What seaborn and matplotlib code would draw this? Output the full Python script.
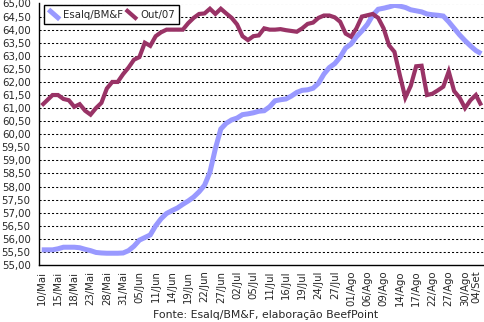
import numpy as np
import pandas as pd
import matplotlib
matplotlib.use("Agg")
import matplotlib.pyplot as plt
import seaborn as sns
from matplotlib.legend_handler import HandlerLine2D
from matplotlib.lines import Line2D

# Trading days (BM&F calendar: Corpus Christi and 9 de Julho closed)
holidays = ["2007-06-07", "2007-07-09"]
dates = pd.bdate_range("2007-05-10", "2007-09-04", freq="C", holidays=holidays)
month_pt = {5: "Mai", 6: "Jun", 7: "Jul", 8: "Ago", 9: "Set"}
date_labels = [f"{d.day:02d}/{month_pt[d.month]}" for d in dates]

series_names = ["Esalq/BM&F", "Out/07"]

esalq = [
    55.58, 55.58, 55.58, 55.62, 55.68, 55.68, 55.68, 55.66, 55.60, 55.55,
    55.48, 55.46, 55.45, 55.45, 55.45, 55.46, 55.55, 55.72, 55.95, 56.05,
    56.15, 56.50, 56.77, 56.97, 57.08, 57.18, 57.32, 57.45, 57.60, 57.80,
    58.05, 58.55, 59.45, 60.20, 60.42, 60.55, 60.62, 60.75, 60.78, 60.82,
    60.88, 60.90, 61.05, 61.28, 61.32, 61.35, 61.46, 61.60, 61.68, 61.70,
    61.76, 61.95, 62.30, 62.55, 62.70, 62.95, 63.30, 63.45, 63.73, 63.95,
    64.20, 64.55, 64.78, 64.82, 64.87, 64.93, 64.90, 64.85, 64.76, 64.72,
    64.68, 64.60, 64.57, 64.55, 64.52, 64.30, 64.05, 63.80, 63.58, 63.38,
    63.20, 63.08,
]

out07 = [
    61.10, 61.30, 61.50, 61.50, 61.35, 61.30, 61.05, 61.15, 60.90, 60.75,
    61.00, 61.20, 61.75, 62.00, 62.00, 62.30, 62.55, 62.85, 62.95, 63.50,
    63.38, 63.75, 63.90, 64.00, 64.00, 64.00, 64.00, 64.25, 64.45, 64.60,
    64.62, 64.80, 64.60, 64.80, 64.62, 64.45, 64.20, 63.75, 63.60, 63.75,
    63.78, 64.05, 64.00, 64.00, 64.02, 63.98, 63.95, 63.92, 64.05, 64.22,
    64.27, 64.45, 64.54, 64.54, 64.47, 64.30, 63.85, 63.73, 64.05, 64.50,
    64.55, 64.60, 64.45, 64.05, 63.40, 63.15, 62.25, 61.40, 61.85, 62.60,
    62.62, 61.50, 61.55, 61.68, 61.82, 62.40, 61.65, 61.40, 61.00, 61.30,
    61.50, 61.10,
]

y_ticks = np.arange(55.0, 65.01, 0.5)

n = len(dates)
df = pd.DataFrame({
    "pos": list(range(n)) * 2,
    "valor": esalq + out07,
    "serie": [series_names[0]] * n + [series_names[1]] * n,
})

sns.set_style("white")
plt.rcParams["font.family"] = ["DejaVu Sans"]
FS = 7.3

W, H = 484, 322
fig = plt.figure(figsize=(W / 100, H / 100), dpi=100)
ax = fig.add_axes([39 / W, 1 - 265 / H, (W - 39) / W, (265 - 3.5) / H])

palette = {"Esalq/BM&F": "#9999FF", "Out/07": "#993366"}
sns.lineplot(data=df, x="pos", y="valor", hue="serie", hue_order=series_names,
             palette=palette, ax=ax, legend=False, estimator=None)
ax.lines[0].set_linewidth(3.6)
ax.lines[1].set_linewidth(3.0)
for ln in ax.lines:
    ln.set_solid_joinstyle("miter")
    ln.set_solid_capstyle("butt")

ax.set_xlim(-0.5, n - 0.5)
ax.set_ylim(55.0, 65.0)

# horizontal dotted grid
ax.set_yticks(y_ticks)
ax.set_yticklabels([f"{v:.2f}".replace(".", ",") for v in y_ticks], fontsize=FS)
for v in y_ticks[1:]:
    ax.axhline(v, color="black", lw=0.75, ls=(0, (2, 2)), zorder=0.5)

# category labels every third trading day, tick marks between categories
label_pos = list(range(0, n, 3))
ax.set_xticks(label_pos)
ax.set_xticklabels([date_labels[i] for i in label_pos], rotation=90, fontsize=FS)
ax.get_xticklabels()[-1].set_horizontalalignment("right")
ax.set_xticks(np.arange(-0.5, n, 1), minor=True)
ax.tick_params(axis="x", which="major", length=0, pad=4)
ax.tick_params(axis="x", which="minor", length=4, width=0.8, direction="out", color="black")
ax.tick_params(axis="y", which="major", length=3, width=0.8, direction="out", color="black", pad=3)

ax.set_xlabel("")
ax.set_ylabel("")
for side in ["top", "right"]:
    ax.spines[side].set_visible(False)
for side in ["left", "bottom"]:
    ax.spines[side].set_color("black")
    ax.spines[side].set_linewidth(1.0)


class DiagonalHandler(HandlerLine2D):
    def create_artists(self, legend, orig_handle, xdescent, ydescent, width, height, fontsize, trans):
        x0, y0 = -xdescent, -ydescent
        line = Line2D([x0, x0 + width], [y0 + height, y0],
                      color=orig_handle.get_color(), lw=orig_handle.get_linewidth(),
                      solid_capstyle="butt")
        line.set_transform(trans)
        return [line]


handles = [Line2D([], [], color=palette[s], lw=ax.lines[i].get_linewidth())
           for i, s in enumerate(series_names)]
leg = fig.legend(handles, series_names, loc="upper left",
                 bbox_to_anchor=(44 / W, 1 - 5 / H), bbox_transform=fig.transFigure,
                 ncol=2, fontsize=FS, frameon=True, fancybox=False,
                 edgecolor="black", framealpha=1, borderpad=0.45, borderaxespad=0,
                 handlelength=1.1, handleheight=1.1, handletextpad=0.3, columnspacing=0.3,
                 handler_map={Line2D: DiagonalHandler()})
leg.get_frame().set_linewidth(1.0)

fig.text(266 / W, 1 - 315 / H, "Fonte: Esalq/BM&F, elaboração BeefPoint",
         ha="center", va="center", fontsize=FS + 0.5)

fig.savefig("out.png", dpi=100)
